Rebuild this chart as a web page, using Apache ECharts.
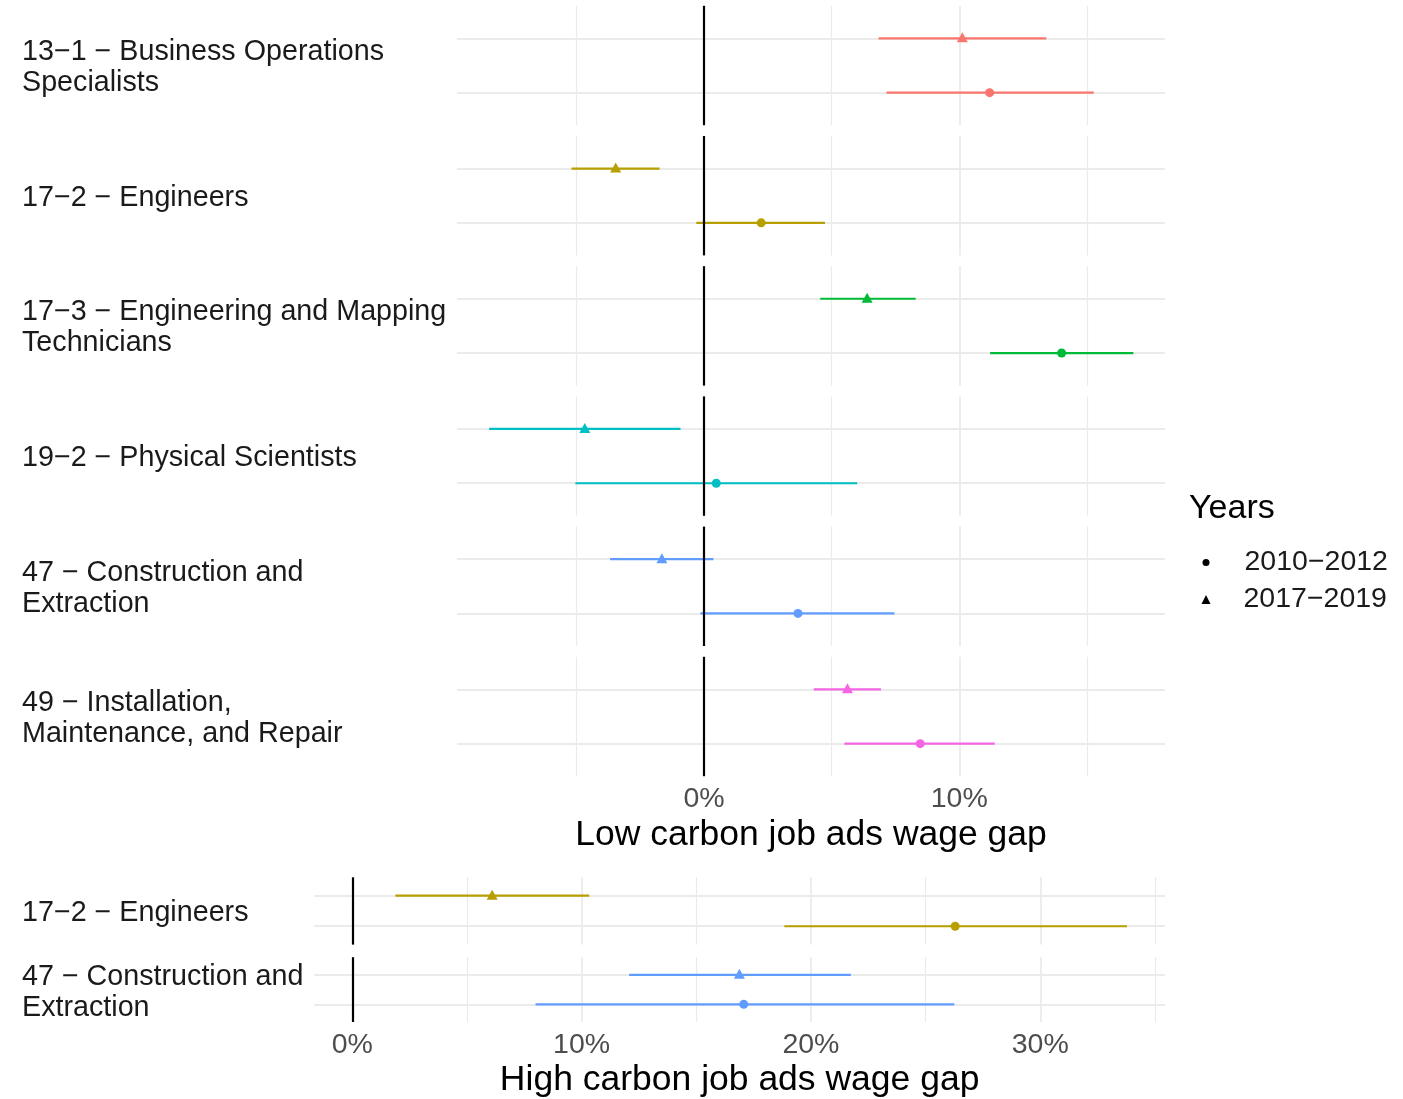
<!DOCTYPE html>
<html>
<head>
<meta charset="utf-8">
<script src="https://cdn.jsdelivr.net/npm/echarts@6/dist/echarts.min.js"></script>
<style>
html,body{margin:0;padding:0;background:#fff;}
#chart{width:1403px;height:1099px;}
</style>
</head>
<body>
<div id="chart"></div>
<script>
// ---------- data ----------
const yearNames = ['2010−2012', '2017−2019'];

const topLabels = [
  '13−1 − Business Operations\nSpecialists',
  '17−2 − Engineers',
  '17−3 − Engineering and Mapping\nTechnicians',
  '19−2 − Physical Scientists',
  '47 − Construction and\nExtraction',
  '49 − Installation,\nMaintenance, and Repair'
];
const topColors = ['#F8766D', '#B79F00', '#00BA38', '#00BFC4', '#619CFF', '#F564E3'];
// 2010-2012 (circles)
const topEst1012 = [11.19, 2.24, 14.01, 0.48, 3.68, 8.47];
const topLo1012  = [7.15, -0.30, 11.21, -5.04, -0.14, 5.50];
const topHi1012  = [15.27, 4.74, 16.82, 6.00, 7.46, 11.39];
// 2017-2019 (triangles)
const topEst1719 = [10.12, -3.46, 6.39, -4.67, -1.65, 5.62];
const topLo1719  = [6.84, -5.19, 4.55, -8.42, -3.68, 4.30];
const topHi1719  = [13.41, -1.74, 8.29, -0.92, 0.37, 6.93];

const bottomLabels = ['17−2 − Engineers', '47 − Construction and\nExtraction'];
const bottomColors = ['#B79F00', '#619CFF'];
const botEst1012 = [26.29, 17.07];
const botLo1012  = [18.84, 7.99];
const botHi1012  = [33.78, 26.25];
const botEst1719 = [6.10, 16.88];
const botLo1719  = [1.88, 12.07];
const botHi1719  = [10.33, 21.74];

const topTicks = [0, 10];
const topGridValues = [-5, 0, 5, 10, 15];
const bottomTicks = [0, 10, 20, 30];
const bottomGridValues = [0, 5, 10, 15, 20, 25, 30, 35];

const topTitle = 'Low carbon job ads wage gap';
const bottomTitle = 'High carbon job ads wage gap';
const legendTitle = 'Years';

// ---------- layout ----------
const FONT = '"Liberation Sans", Arial, Helvetica, sans-serif';
const panels = [];
for (let i = 0; i < topLabels.length; i++) {
  panels.push({
    top: 5.8 + 130.2 * i, height: 119.4, left: 457, width: 708,
    xmin: -9.677, xmax: 18.06, label: topLabels[i], color: topColors[i],
    est: [topEst1012[i], topEst1719[i]], lo: [topLo1012[i], topLo1719[i]], hi: [topHi1012[i], topHi1719[i]],
    ticks: topTicks, gridVals: topGridValues, showAxis: i === topLabels.length - 1, title: topTitle,
    nameGap: 41, labelMargin: 8
  });
}
const botTops = [877.3, 957.2];
for (let i = 0; i < bottomLabels.length; i++) {
  panels.push({
    top: botTops[i], height: 67.3, left: 314.3, width: 850.7,
    xmin: -1.657, xmax: 35.44, label: bottomLabels[i], color: bottomColors[i],
    est: [botEst1012[i], botEst1719[i]], lo: [botLo1012[i], botLo1719[i]], hi: [botHi1012[i], botHi1719[i]],
    ticks: bottomTicks, gridVals: bottomGridValues, showAxis: i === bottomLabels.length - 1, title: bottomTitle,
    nameGap: 40, labelMargin: 9
  });
}

const grid = [], xAxis = [], yAxis = [], series = [], graphic = [];
panels.forEach((p, i) => {
  grid.push({left: p.left, top: p.top, width: p.width, height: p.height, containLabel: false});
  const ticks = p.ticks;
  xAxis.push({
    gridIndex: i, type: 'value', min: p.xmin, max: p.xmax,
    axisLine: {show: false}, axisTick: {show: false}, splitLine: {show: false},
    axisLabel: {
      show: p.showAxis, customValues: ticks, margin: p.labelMargin,
      color: '#4D4D4D', fontSize: 28.5, fontFamily: FONT,
      showMinLabel: true, showMaxLabel: true,
      formatter: function (v) {
        const r = Math.round(v * 1000) / 1000;
        return ticks.indexOf(r) >= 0 ? r + '%' : '';
      }
    },
    name: p.showAxis ? p.title : '', nameLocation: 'middle', nameGap: p.nameGap,
    nameTextStyle: {color: '#000', fontSize: 35.5, fontFamily: FONT}
  });
  yAxis.push({gridIndex: i, type: 'value', min: -0.6, max: 1.6, show: false});

  // gridlines
  const glData = p.gridVals.map(v => ({xAxis: v, lineStyle: {width: (v % 10 === 0) ? 1.8 : 1.2}}));
  glData.push({yAxis: 0, lineStyle: {width: 2}});
  glData.push({yAxis: 1, lineStyle: {width: 2}});
  series.push({
    type: 'scatter', xAxisIndex: i, yAxisIndex: i, data: [[0, 0]], symbolSize: 0, silent: true, z: 1,
    markLine: {z: 1, silent: true, symbol: ['none', 'none'], label: {show: false}, animation: false,
      lineStyle: {color: '#EBEBEB', type: 'solid'}, emphasis: {disabled: true}, data: glData}
  });
  // error bars (one line series per bar)
  const col = p.color;
  [0, 1].forEach(k => {
    series.push({
      type: 'line', xAxisIndex: i, yAxisIndex: i, z: 2, silent: true,
      data: [[p.lo[k], k], [p.hi[k], k]],
      symbol: 'none', showSymbol: false,
      lineStyle: {color: col, width: 2.2, opacity: 1},
      emphasis: {disabled: true}
    });
  });
  // zero line
  series.push({
    type: 'scatter', xAxisIndex: i, yAxisIndex: i, data: [[0, 0]], symbolSize: 0, silent: true, z: 3,
    markLine: {z: 3, silent: true, symbol: ['none', 'none'], label: {show: false}, animation: false,
      lineStyle: {color: '#000', type: 'solid', width: 2.2}, emphasis: {disabled: true}, data: [{xAxis: 0}]}
  });
  // points
  series.push({
    name: yearNames[0], type: 'scatter', xAxisIndex: i, yAxisIndex: i, z: 4,
    symbol: 'circle', symbolSize: 9, itemStyle: {color: col, opacity: 1},
    data: [[p.est[0], 0]]
  });
  series.push({
    name: yearNames[1], type: 'scatter', xAxisIndex: i, yAxisIndex: i, z: 4,
    symbol: 'triangle', symbolSize: [11, 10], symbolOffset: [0, -1], itemStyle: {color: col, opacity: 1},
    data: [[p.est[1], 1]]
  });
  // strip label
  const lines = p.label.split('\n').length;
  const lh = 31;
  graphic.push({
    type: 'text', left: 22, top: p.top + p.height / 2 - lines * lh / 2 + 2,
    style: {text: p.label, fill: '#1A1A1A', font: '28.7px ' + FONT, lineHeight: lh,
      textVerticalAlign: 'top'}
  });
});

graphic.push({
  type: 'text', left: 1189, top: 508 - 16,
  style: {text: legendTitle, fill: '#000', font: '34px ' + FONT, lineHeight: 34}
});

const chart = echarts.init(document.getElementById('chart'), null, {renderer: 'canvas'});
chart.setOption({
  animation: false,
  backgroundColor: '#fff',
  grid: grid, xAxis: xAxis, yAxis: yAxis, series: series, graphic: graphic,
  legend: [
    {data: [{name: yearNames[0], icon: 'circle', itemStyle: {color: '#000'}}],
     left: 1202.5, top: 563 - 15, padding: 0, itemWidth: 7, itemHeight: 7, selectedMode: false,
     textStyle: {color: '#1A1A1A', fontSize: 28.5, fontFamily: FONT, padding: [0, 0, 0, 30]}},
    {data: [{name: yearNames[1], icon: 'triangle', itemStyle: {color: '#000'}}],
     left: 1201.5, top: 600 - 15, padding: 0, itemWidth: 9, itemHeight: 9, selectedMode: false,
     textStyle: {color: '#1A1A1A', fontSize: 28.5, fontFamily: FONT, padding: [0, 0, 0, 28]}}
  ]
});
</script>
</body>
</html>
